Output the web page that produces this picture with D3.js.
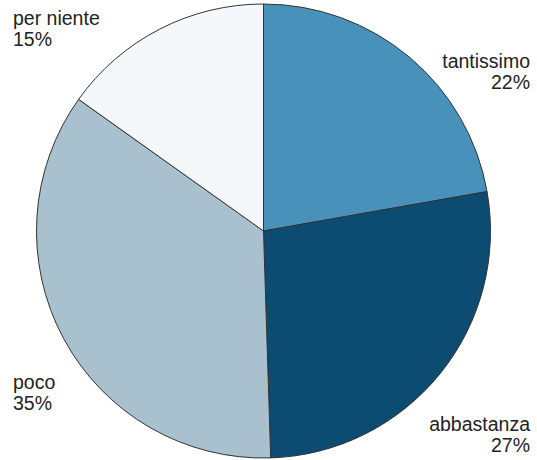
<!DOCTYPE html>
<html><head><meta charset="utf-8">
<script src="https://cdn.jsdelivr.net/npm/d3@7"></script>
<style>html,body{margin:0;padding:0;background:#fff;}</style>
</head><body>
<svg id="c" width="537" height="460"></svg>
<script>
const categories = ["tantissimo", "abbastanza", "poco", "per niente"];
const values = [22, 27, 35, 15];
const colors = ["#4891bb", "#0c4c72", "#a9c1ce", "#f5f8fa"];
const labelPct = ["22%", "27%", "35%", "15%"];

const svg = d3.select("#c");
const cx = 263.5, cy = 231, r = 227;
const g = svg.append("g").attr("transform", `translate(${cx},${cy})`);
const pie = d3.pie().sort(null).value(d => d)(values);
const arc = d3.arc().innerRadius(0).outerRadius(r);
g.selectAll("path").data(pie).enter().append("path")
  .attr("d", arc)
  .attr("fill", (d, i) => colors[i])
  .attr("stroke", "#333")
  .attr("stroke-width", 1);

const labels = [
  {x: 530, y: 68, anchor: "end"},
  {x: 530, y: 431, anchor: "end"},
  {x: 13, y: 389, anchor: "start"},
  {x: 13, y: 25, anchor: "start"}
];
categories.forEach((c, i) => {
  const t = svg.append("text")
    .attr("x", labels[i].x).attr("y", labels[i].y)
    .attr("text-anchor", labels[i].anchor)
    .attr("font-family", "Liberation Sans, Arial, sans-serif")
    .attr("font-size", 19.5).attr("fill", "#222");
  t.append("tspan").attr("x", labels[i].x).text(c);
  t.append("tspan").attr("x", labels[i].x).attr("dy", 21).text(labelPct[i]);
});
</script>
</body></html>
